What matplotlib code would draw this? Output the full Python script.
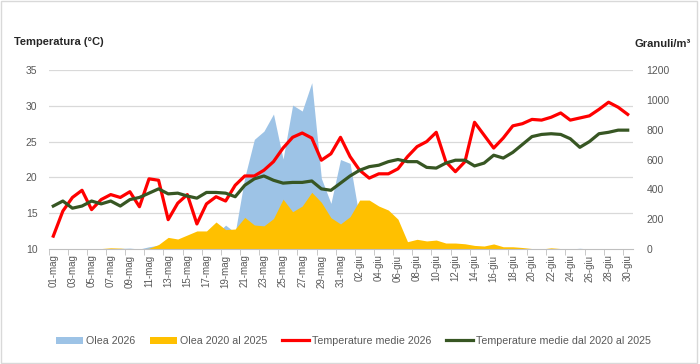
import numpy as np
import matplotlib
matplotlib.use('Agg')
import matplotlib.pyplot as plt
from matplotlib.patches import Rectangle

plt.rcParams['font.family'] = ['Liberation Sans', 'DejaVu Sans']

# categorie: giorni da 01-mag a 30-giu
giorni = [f'{d:02d}-mag' for d in range(1, 32)] + [f'{d:02d}-giu' for d in range(1, 31)]

# temperature medie 2026 (°C)
temp_2026 = [11.8, 15.3, 17.2, 18.2, 15.5, 16.9, 17.6, 17.2, 18.0, 15.9,
             19.8, 19.6, 14.1, 16.4, 17.6, 13.5, 16.3, 17.3, 16.7, 18.9,
             20.2, 20.2, 21.0, 22.2, 24.1, 25.6, 26.2, 25.5, 22.4, 23.3,
             25.6, 22.9, 21.0, 19.9, 20.5, 20.5, 21.2, 22.9, 24.3, 25.0,
             26.3, 22.2, 20.8, 22.2, 27.7, 25.9, 24.1, 25.5, 27.2, 27.5,
             28.1, 28.0, 28.4, 29.0, 28.0, 28.3, 28.6, 29.5, 30.5, 29.8,
             28.8]

# temperature medie dal 2020 al 2025 (°C)
temp_media = [16.0, 16.7, 15.7, 16.0, 16.7, 16.3, 16.7, 16.0, 16.9, 17.2,
              17.8, 18.4, 17.7, 17.8, 17.4, 17.1, 17.9, 17.9, 17.8, 17.3,
              18.9, 19.8, 20.2, 19.6, 19.2, 19.3, 19.3, 19.5, 18.4, 18.2,
              19.2, 20.2, 21.0, 21.5, 21.7, 22.2, 22.5, 22.2, 22.2, 21.4,
              21.3, 22.0, 22.4, 22.4, 21.6, 22.0, 23.1, 22.7, 23.5, 24.6,
              25.7, 26.0, 26.1, 26.0, 25.4, 24.2, 25.0, 26.1, 26.3, 26.6,
              26.6]

# Olea 2026 (granuli/m3)
olea_2026 = [0, 0, 0, 0, 0, 0, 0, 4, 6, 0,
             15, 25, 30, 40, 50, 60, 80, 100, 160, 110,
             480, 735, 790, 905, 603, 965, 925, 1115, 474, 306,
             600, 574, 200, 0, 0, 0, 0, 0, 0, 0,
             0, 0, 0, 0, 0, 0, 0, 0, 0, 0,
             0, 0, 0, 0, 0, 5, 0, 0, 0, 0,
             0]

# Olea 2020 al 2025 (granuli/m3)
olea_media = [0, 0, 0, 0, 0, 3, 8, 6, 0, 0,
              5, 30, 78, 67, 94, 121, 121, 181, 130, 134,
              212, 161, 155, 204, 334, 250, 288, 380, 313, 210,
              168, 217, 328, 328, 288, 261, 200, 49, 65, 54,
              60, 40, 40, 35, 24, 20, 34, 15, 15, 10,
              3, 0, 8, 3, 0, 0, 0, 0, 0, 0,
              0]

x = np.arange(len(giorni))
grigio = '#595959'

fig = plt.figure(figsize=(7, 3.64), dpi=100)
ax = fig.add_axes([48.5/700, 1-249/364, 584/700, 179/364])
axt = ax.twinx()

# griglia della temperatura, dietro le aree
for t in range(15, 36, 5):
    ax.axhline((t - 10) * 1200 / 25., color='#d9d9d9', lw=0.9, zorder=0)

ax.fill_between(x, 0, olea_2026, color='#9dc3e6', lw=0, label='Olea 2026', zorder=1)
ax.fill_between(x, 0, olea_media, color='#ffc000', lw=0, label='Olea 2020 al 2025', zorder=2)
ax.set_ylim(0, 1200)
ax.set_yticks(range(0, 1201, 200))
ax.yaxis.tick_right()

axt.plot(x, temp_2026, color='#ff0000', lw=2.3, label='Temperature medie 2026')
axt.plot(x, temp_media, color='#375623', lw=2.3, label='Temperature medie dal 2020 al 2025')
axt.set_ylim(10, 35)
axt.set_yticks(range(10, 36, 5))
axt.yaxis.tick_left()

ax.set_xlim(-0.5, len(giorni) - 0.5)
ax.set_xticks(x[::2])
ax.set_xticklabels(giorni[::2], rotation=90, fontsize=7, color=grigio)
ax.set_xticks(np.arange(-0.5, len(giorni), 2), minor=True)
ax.tick_params(axis='x', which='major', length=0, pad=4)
ax.tick_params(axis='x', which='minor', length=4, color='#bfbfbf')
ax.tick_params(axis='y', length=0, labelsize=7.5, labelcolor=grigio, pad=10)
axt.tick_params(axis='y', length=0, labelsize=7.5, labelcolor=grigio, pad=8)

for s in ['top', 'left', 'right']:
    ax.spines[s].set_visible(False)
ax.spines['bottom'].set_color('#bfbfbf')
for s in axt.spines.values():
    s.set_visible(False)

fig.text(14/700, 1-42/364, 'Temperatura (°C)', fontsize=8, fontweight='bold',
         color='#262626', va='center', ha='left')
fig.text(691/700, 1-44/364, 'Granuli/m³', fontsize=8, fontweight='bold',
         color='#262626', va='center', ha='right')

h1, l1 = ax.get_legend_handles_labels()
h2, l2 = axt.get_legend_handles_labels()
fig.legend(h1 + h2, l1 + l2, loc='center', bbox_to_anchor=(0.505, 23/364), ncol=4,
           frameon=False, fontsize=7.7, handlelength=2.5, handleheight=0.6,
           handletextpad=0.3, columnspacing=1.4, labelcolor=grigio)

fig.patches.append(Rectangle((0.002, 0.004), 0.994, 0.992, transform=fig.transFigure,
                             fill=False, edgecolor='#d9d9d9', lw=1))

fig.savefig('out.png', dpi=100)
